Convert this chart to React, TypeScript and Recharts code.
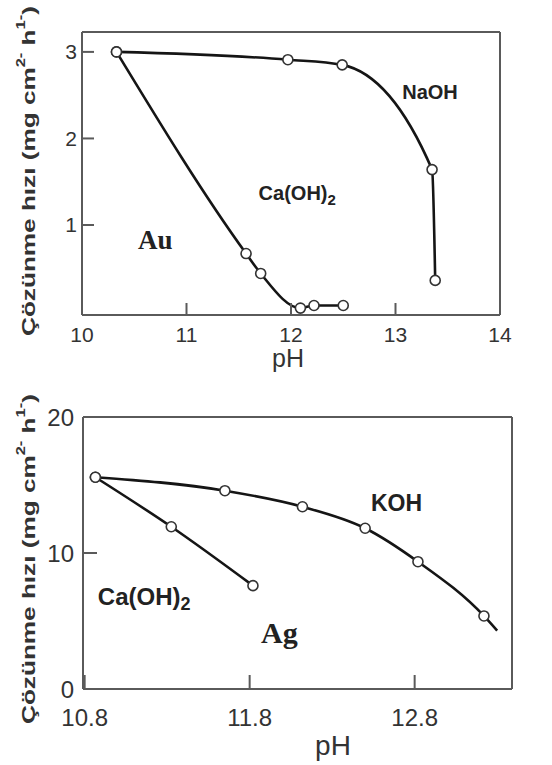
import React from "react"
import { LineChart, Line, XAxis, YAxis, ReferenceDot } from "recharts"

// Au — top panel
const auNaohPH = [10.33, 11.97, 12.49, 13.35, 13.38]
const auNaohRate = [3.0, 2.91, 2.85, 1.64, 0.36]
const auCaPH = [10.33, 11.57, 11.71, 12.09, 12.22, 12.5]
const auCaRate = [3.0, 0.67, 0.44, 0.04, 0.07, 0.07]
const auXTicks = [10, 11, 12, 13, 14]
const auYTicks = [1, 2, 3]

// Ag — bottom panel (last KOH point is the curve's end, no marker)
const agKohPH = [10.865, 11.65, 12.12, 12.5, 12.82, 13.22, 13.3]
const agKohRate = [15.57, 14.58, 13.4, 11.82, 9.36, 5.37, 4.29]
const agKohMarker = [true, true, true, true, true, true, false]
const agCaPH = [10.865, 11.325, 11.82]
const agCaRate = [15.57, 11.93, 7.6]
const agXTicks = [10.8, 11.8, 12.8]
const agYTicks = [0, 10, 20]

const SANS = "'Liberation Sans', Arial, sans-serif"
const SERIF = "'Liberation Serif', 'Times New Roman', serif"
const BOX = "#5a5a5a"
const INK = "#151515"

const rows = (xs: number[], ys: number[], marks?: boolean[]) =>
  xs.map((ph, i) => ({ ph, rate: ys[i], marker: marks ? marks[i] : true }))

const OpenDot = (p: any) => {
  if (!p.payload?.marker) return <g key={p.key} />
  return <circle key={p.key} cx={p.cx} cy={p.cy} r={5} fill="#fff" stroke="#333" strokeWidth={1.6} />
}

const YTitle = ({ cx, cy }: { cx: number; cy: number }) => (
  <text
    x={cx}
    y={cy}
    transform={`rotate(-90 ${cx} ${cy})`}
    textAnchor="middle"
    dominantBaseline="central"
    fontFamily={SANS}
    fontWeight="bold"
    fontSize={19}
    fill="#333"
    textLength={330}
    lengthAdjust="spacingAndGlyphs"
  >
    Çözünme hızı (mg cm<tspan fontSize={12} dy={-7}>2-</tspan>
    <tspan dy={7}> h</tspan>
    <tspan fontSize={12} dy={-7}>1-</tspan>
    <tspan dy={7}>)</tspan>
  </text>
)

const Note = ({ text, sub, size, serif, anchor }: any) => (p: any) => (
  <text
    x={p.cx}
    y={p.cy}
    textAnchor={anchor || "middle"}
    dominantBaseline="central"
    fontFamily={serif ? SERIF : SANS}
    fontWeight="bold"
    fontSize={size}
    fill="#222"
  >
    {text}
    {sub && (
      <tspan fontSize={size * 0.75} dy={size * 0.3}>
        {sub}
      </tspan>
    )}
  </text>
)

function AuChart() {
  return (
    <LineChart width={552} height={380} margin={{ top: 30, right: 50, bottom: 0, left: 0 }}>
      <XAxis xAxisId="b" type="number" dataKey="ph" domain={[10, 14]} ticks={auXTicks} allowDataOverflow
        height={65} interval={0} tickSize={-12} tickMargin={24}
        axisLine={{ stroke: BOX, strokeWidth: 2 }} tickLine={{ stroke: BOX, strokeWidth: 2 }}
        tick={{ fill: "#333", fontSize: 21, fontFamily: SANS }}
        label={{ content: (p: any) => (
          <text x={p.viewBox.x + p.viewBox.width / 2 - 3} y={358} textAnchor="middle" dominantBaseline="central"
            fontFamily={SANS} fontSize={25} fill="#333">pH</text>
        ) }} />
      <XAxis xAxisId="t" orientation="top" type="number" domain={[10, 14]} ticks={[11, 12, 13]} allowDataOverflow
        height={2} interval={0} tickSize={-12} tick={false}
        axisLine={{ stroke: BOX, strokeWidth: 2 }} tickLine={{ stroke: BOX, strokeWidth: 2 }} />
      <YAxis yAxisId="l" type="number" domain={[-0.04, 3.23]} ticks={auYTicks} allowDataOverflow
        width={82} interval={0} tickSize={-12} tickMargin={17}
        axisLine={{ stroke: BOX, strokeWidth: 2 }} tickLine={{ stroke: BOX, strokeWidth: 2 }}
        tick={{ fill: "#333", fontSize: 21, fontFamily: SANS }}
        label={{ content: () => <YTitle cx={28} cy={171} /> }} />
      <YAxis yAxisId="r" orientation="right" type="number" domain={[-0.04, 3.23]} ticks={auYTicks} allowDataOverflow
        width={2} interval={0} tickSize={-12} tick={false}
        axisLine={{ stroke: BOX, strokeWidth: 2 }} tickLine={{ stroke: BOX, strokeWidth: 2 }} />
      <Line xAxisId="b" yAxisId="l" data={rows(auNaohPH, auNaohRate)} dataKey="rate" type="monotone"
        stroke={INK} strokeWidth={2.6} dot={OpenDot} isAnimationActive={false} />
      <Line xAxisId="b" yAxisId="l" data={rows(auCaPH, auCaRate)} dataKey="rate" type="monotone"
        stroke={INK} strokeWidth={2.6} dot={OpenDot} isAnimationActive={false} />
      <ReferenceDot xAxisId="b" yAxisId="l" x={13.33} y={2.535} r={0} shape={Note({ text: "NaOH", size: 20 })} />
      <ReferenceDot xAxisId="b" yAxisId="l" x={11.69} y={1.37} r={0} shape={Note({ text: "Ca(OH)", sub: "2", size: 20, anchor: "start" })} />
      <ReferenceDot xAxisId="b" yAxisId="l" x={10.7} y={0.83} r={0} shape={Note({ text: "Au", size: 27, serif: true })} />
    </LineChart>
  )
}

function AgChart() {
  return (
    <LineChart width={552} height={385} margin={{ top: 35, right: 38, bottom: 0, left: 0 }}>
      <XAxis xAxisId="b" type="number" dataKey="ph" domain={[10.79, 13.39]} ticks={agXTicks} allowDataOverflow
        height={76} interval={0} tickSize={-14} tickMargin={34}
        axisLine={{ stroke: BOX, strokeWidth: 2 }} tickLine={{ stroke: BOX, strokeWidth: 2 }}
        tick={{ fill: "#333", fontSize: 24, fontFamily: SANS }}
        tickFormatter={(v: number) => v.toFixed(1)}
        label={{ content: () => (
          <text x={333} y={365} textAnchor="middle" dominantBaseline="central"
            fontFamily={SANS} fontSize={28} fill="#333">pH</text>
        ) }} />
      <XAxis xAxisId="t" orientation="top" type="number" domain={[10.79, 13.39]} ticks={[11.8, 12.8]} allowDataOverflow
        height={2} interval={0} tickSize={-14} tick={false}
        axisLine={{ stroke: BOX, strokeWidth: 2 }} tickLine={{ stroke: BOX, strokeWidth: 2 }} />
      <YAxis yAxisId="l" type="number" domain={[0, 20]} ticks={agYTicks} allowDataOverflow
        width={83} interval={0} tickSize={-14} tickMargin={23}
        axisLine={{ stroke: BOX, strokeWidth: 2 }} tickLine={{ stroke: BOX, strokeWidth: 2 }}
        tick={{ fill: "#333", fontSize: 24, fontFamily: SANS }}
        label={{ content: () => <YTitle cx={28} cy={179} /> }} />
      <YAxis yAxisId="r" orientation="right" type="number" domain={[0, 20]} ticks={[10]} allowDataOverflow
        width={2} interval={0} tickSize={-14} tick={false}
        axisLine={{ stroke: BOX, strokeWidth: 2 }} tickLine={{ stroke: BOX, strokeWidth: 2 }} />
      <Line xAxisId="b" yAxisId="l" data={rows(agKohPH, agKohRate, agKohMarker)} dataKey="rate" type="monotone"
        stroke={INK} strokeWidth={2.6} dot={OpenDot} isAnimationActive={false} />
      <Line xAxisId="b" yAxisId="l" data={rows(agCaPH, agCaRate)} dataKey="rate" type="monotone"
        stroke={INK} strokeWidth={2.6} dot={OpenDot} isAnimationActive={false} />
      <ReferenceDot xAxisId="b" yAxisId="l" x={12.69} y={13.7} r={0} shape={Note({ text: "KOH", size: 23 })} />
      <ReferenceDot xAxisId="b" yAxisId="l" x={10.88} y={6.79} r={0} shape={Note({ text: "Ca(OH)", sub: "2", size: 24, anchor: "start" })} />
      <ReferenceDot xAxisId="b" yAxisId="l" x={11.98} y={4.12} r={0} shape={Note({ text: "Ag", size: 30, serif: true })} />
    </LineChart>
  )
}

export default function App() {
  return (
    <div style={{ position: "absolute", left: 0, top: 0, width: 552, height: 765, background: "#fff" }}>
      <div style={{ position: "absolute", left: 0, top: 0 }}>
        <AuChart />
      </div>
      <div style={{ position: "absolute", left: 0, top: 380 }}>
        <AgChart />
      </div>
    </div>
  )
}
